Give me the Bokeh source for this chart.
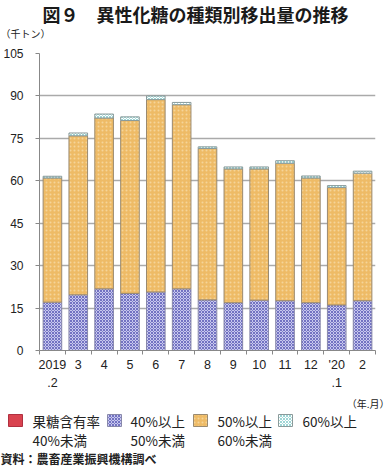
from bokeh.plotting import figure
from bokeh.models import FixedTicker, Range1d, ColumnDataSource
from bokeh.layouts import column
from bokeh.transform import stack
from bokeh.core.properties import value
from bokeh.embed import file_html
from bokeh.resources import INLINE

# ---- data ----
categories = ["2019\n.2", "3", "4", "5", "6", "7", "8", "9", "10", "11", "12", "'20\n.1", "2"]
below40 = [0.0] * 13
p40_50 = [17.1, 19.7, 21.8, 20.2, 20.7, 21.8, 17.9, 16.9, 17.8, 17.6, 16.9, 16.1, 17.6]
p50_60 = [43.9, 56.2, 60.4, 61.1, 68.0, 65.1, 53.5, 47.3, 46.4, 48.6, 44.1, 41.5, 45.1]
p60 = [0.6, 1.0, 1.4, 1.3, 1.3, 0.8, 0.6, 0.7, 0.7, 0.9, 0.7, 0.7, 0.7]
y_ticks = [0, 15, 30, 45, 60, 75, 90, 105]
series_names = ["果糖含有率\n40%未満", "40%以上\n50%未満", "50%以上\n60%未満", "60%以上"]
title_text = "図９　異性化糖の種類別移出量の推移"
unit_text = "（千トン）"
xunit_text = "（年.月）"
source_text = "資料：農畜産業振興機構調べ"

JP = "Noto Sans CJK JP"
NUM = "Liberation Sans"
W = 391

styles = [
    dict(fill_color="#D9434F", line_color="#B03040"),
    dict(fill_color="#C8C8EE", line_color="#8888AA", hatch_pattern="diagonal_cross",
         hatch_color="#7272C2", hatch_scale=3, hatch_weight=1),
    dict(fill_color="#EEBB66", line_color="#9A8A70", hatch_pattern="dot",
         hatch_color="#F5D49A", hatch_scale=4, hatch_weight=1),
    dict(fill_color="#FFFFFF", line_color="#8A9A9A", hatch_pattern="diagonal_cross",
         hatch_color="#9ED6D6", hatch_scale=3, hatch_weight=1),
]
keys = ["a", "b", "c", "d"]


def text_fig(h):
    f = figure(width=W, height=h, output_backend="svg", toolbar_location=None,
               x_range=Range1d(0, W), y_range=Range1d(h, 0),
               x_axis_type=None, y_axis_type=None, frame_align=False,
               min_border=0, min_border_left=0, min_border_right=0,
               min_border_top=0, min_border_bottom=0)
    f.outline_line_color = None
    f.grid.visible = False
    return f


def put(f, t, x, y, size, align="left", style="normal", font=JP, color="#222222"):
    f.text(x=[x], y=[y], text=[t], text_font=value(font), text_font_size=size,
           text_align=align, text_baseline="middle", text_font_style=style,
           text_color=color)


# ---- header ----
top = text_fig(40)
put(top, title_text, 195, 13, "18px", align="center", style="bold", color="#1a1a1a")
put(top, unit_text, 0, 33, "10px")

# ---- main chart (page y 40..396, frame 53..350) ----
xs = list(range(1, len(categories) + 1))
src = ColumnDataSource(dict(x=xs, a=below40, b=p40_50, c=p50_60, d=p60))

p = figure(width=W, height=356, output_backend="svg", toolbar_location=None,
           x_range=Range1d(0.5, len(categories) + 0.5), y_range=Range1d(0, 105),
           frame_align=False,
           min_border_left=38, min_border_right=16, min_border_top=13, min_border_bottom=46)
p.outline_line_color = None

for i, k in enumerate(keys):
    p.vbar(x="x", width=0.72, bottom=stack(*keys[:i]), top=stack(*keys[:i + 1]),
           source=src, line_width=1, **styles[i])

yaxis = p.yaxis[0]
yaxis.ticker = FixedTicker(ticks=y_ticks)
yaxis.axis_line_color = "#888888"
yaxis.major_tick_line_color = "#888888"
yaxis.major_tick_out = 4
yaxis.major_tick_in = 0
yaxis.minor_tick_line_color = None
yaxis.major_label_text_font = NUM
yaxis.major_label_text_font_size = "12px"
yaxis.major_label_text_color = "#222222"
yaxis.major_label_standoff = 12

xaxis = p.xaxis[0]
xaxis.ticker = FixedTicker(ticks=xs, minor_ticks=[x - 0.5 for x in xs] + [len(xs) + 0.5])
xaxis.major_label_overrides = {x: c for x, c in zip(xs, categories)}
xaxis.axis_line_color = "#888888"
xaxis.major_tick_line_color = None
xaxis.minor_tick_line_color = "#888888"
xaxis.minor_tick_out = 4
xaxis.minor_tick_in = 0
xaxis.major_label_text_font = NUM
xaxis.major_label_text_font_size = "12.5px"
xaxis.major_label_text_color = "#222222"
xaxis.major_label_text_line_height = 1.35
xaxis.major_label_standoff = 1

p.xgrid.grid_line_color = None
p.ygrid.ticker = FixedTicker(ticks=y_ticks[1:])
p.ygrid.grid_line_color = "#AAAAAA"
p.ygrid.grid_line_width = 1.5

# ---- footer: x unit, legend, source (page y 396..467) ----
bot = text_fig(71)
OFF = 396
put(bot, xunit_text, 389, 403 - OFF, "10px", align="right")
sw_x = [8, 107, 193, 278]
tx_x = [32, 130, 217, 302]
for i in range(4):
    bot.quad(left=[sw_x[i]], right=[sw_x[i] + 14], top=[414 - OFF], bottom=[426 - OFF],
             line_width=1, **styles[i])
    for j, t in enumerate(series_names[i].split("\n")):
        put(bot, t, tx_x[i], 420 - OFF + 19 * j, "13.5px")
put(bot, source_text, 0, 458 - OFF, "12px", style="bold")

layout = column(top, p, bot, spacing=0)
open("out.html", "w").write(file_html(layout, INLINE))
